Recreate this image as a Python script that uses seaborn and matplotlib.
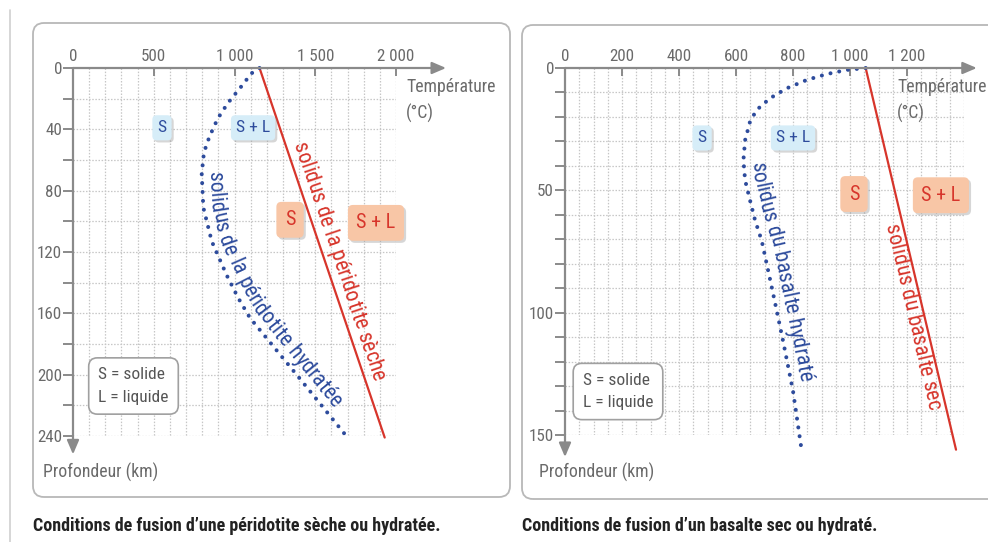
import numpy as np
import matplotlib
matplotlib.use('Agg')
import matplotlib.pyplot as plt
import matplotlib.patheffects as pe
import matplotlib.font_manager as fm
from matplotlib.patches import FancyBboxPatch
from matplotlib.lines import Line2D
from matplotlib.transforms import IdentityTransform
import seaborn as sns

# --- données ---
# péridotite (panneau gauche)
peri_ticks_T = [0, 500, 1000, 1500, 2000]
peri_labels_T = ['0', '500', '1 000', '1 500', '2 000']
peri_ticks_z = [0, 40, 80, 120, 160, 200, 240]
peri_minor_z = [20, 60, 100, 140, 180, 220]

peri_sec_T = [1155, 1930]
peri_sec_z = [0, 241]
peri_hyd_T = [1155, 1105, 1035, 958, 896, 844, 811, 797, 807, 859, 951, 1023, 1096, 1400, 1700]
peri_hyd_z = [0, 3.5, 13, 23, 33, 45, 55, 69, 91, 113, 135, 150, 163, 202, 241]

peri_box_T = [551, 1115, 1344, 1876]
peri_box_z = [39, 39, 99, 101]
peri_box_txt = ['S', 'S + L', 'S', 'S + L']

# basalte (panneau droit)
bas_ticks_T = [0, 200, 400, 600, 800, 1000, 1200]
bas_labels_T = ['0', '200', '400', '600', '800', '1 000', '1 200']
bas_ticks_z = [0, 50, 100, 150]
bas_minor_z = [10, 20, 30, 40, 60, 70, 80, 90, 110, 120, 130, 140]

bas_sec_T = [1055, 1372]
bas_sec_z = [0, 156]
bas_hyd_T = [1055, 988, 918, 848, 778, 719, 672, 649, 632, 626, 632, 649, 667, 690, 728, 765, 800, 830]
bas_hyd_z = [0, 0.8, 2.5, 4.9, 8.3, 12.4, 17.2, 22, 29.5, 37.7, 45.9, 54, 62.3, 70.5, 91, 111.5, 132, 156]

bas_box_T = [481, 800, 1014, 1319]
bas_box_z = [28.6, 28.6, 51.5, 52]
bas_box_txt = ['S', 'S + L', 'S', 'S + L']

W, H = 988, 542
BLEU = '#2d4b9c'
ROUGE = '#d7352b'
AXE = '#8a8a8a'
GRIS = '#6a6a6a'

sns.set_theme(style='white')

# police étroite si disponible
noms = {f.name for f in fm.fontManager.ttflist}
etroit = {f.name for f in fm.fontManager.ttflist if f.stretch in ('condensed', 'semi-condensed', 'extra-condensed')}
police, serre = 'Liberation Sans', 'normal'
for cand in ['Liberation Sans Narrow', 'Roboto Condensed', 'Open Sans Condensed', 'Noto Sans Condensed',
             'DejaVu Sans Condensed']:
    if cand in noms:
        police = cand
        break
else:
    for cand in ['Noto Sans', 'Open Sans', 'Roboto', 'DejaVu Sans']:
        if cand in etroit:
            police, serre = cand, 'condensed'
            break
plt.rcParams['font.family'] = [police, 'DejaVu Sans']
plt.rcParams['font.stretch'] = serre

fig = plt.figure(figsize=(W / 100, H / 100), dpi=100)
fig.patch.set_facecolor('white')
rend = fig.canvas.get_renderer()


def taille(txt, cible, **kw):
    t = fig.text(0, 0, txt, fontsize=10, **kw)
    w = t.get_window_extent(rend).width
    t.remove()
    return 10 * cible / w


FS_TICK = taille('1 000', 37)
FS_AXE = taille('Profondeur (km)', 115)
FS_COURBE = taille('solidus de la péridotite sèche', 250)
FS_LEG = taille('L = liquide', 70)
FS_TITRE = taille('Conditions de fusion d\u2019une péridotite sèche ou hydratée.', 407, fontweight='bold')
FS_BLEU = taille('S + L', 34)
FS_ORANGE = taille('S + L', 39)


def axes_px(x0, y0, x1, y1):
    return fig.add_axes([x0 / W, 1 - y1 / H, (x1 - x0) / W, (y1 - y0) / H])


def prepare(ax, xmax, zmax, dx, dz, xt, xl, zt, zm, xarrow, zarrow):
    ax.set_xlim(0, xmax)
    ax.set_ylim(zmax, 0)
    ax.set_facecolor('none')
    for s in ax.spines.values():
        s.set_visible(False)
    ax.vlines(np.arange(dx, xmax + 1, dx), 0, zmax, colors='#c6c6c6', lw=0.9,
              linestyles=(0, (1.2, 1.3)), zorder=0)
    ax.hlines(np.arange(dz, zmax + 1, dz), 0, xmax, colors='#c6c6c6', lw=0.9,
              linestyles=(0, (1.2, 1.3)), zorder=0)
    ax.xaxis.tick_top()
    ax.set_xticks(xt, xl)
    ax.set_yticks(zt, [str(v) for v in zt])
    ax.set_yticks(zm, minor=True)
    ax.tick_params(axis='x', which='major', direction='in', length=6, width=1.4,
                   color=AXE, labelcolor=GRIS, labelsize=FS_TICK, pad=3, top=True, bottom=False)
    ax.tick_params(axis='y', which='both', direction='out', length=7, width=1.4,
                   color=AXE, labelcolor=GRIS, labelsize=FS_TICK, pad=1, left=True)
    arr = dict(arrowstyle='-|>,head_length=0.7,head_width=0.3', color=AXE, lw=1.6,
               mutation_scale=12, shrinkA=0, shrinkB=0)
    ax.annotate('', xy=(xarrow, 0), xytext=(0, 0), arrowprops=arr, annotation_clip=False)
    ax.annotate('', xy=(0, zarrow), xytext=(0, 0), arrowprops=arr, annotation_clip=False)


def boites(ax, T, z, txt):
    for i, (x, y, s) in enumerate(zip(T, z, txt)):
        orange = i >= 2
        fs = FS_ORANGE if orange else FS_BLEU
        pad = (8.5 if orange else 5.0) / (fs * 100 / 72)
        t = ax.text(x, y, s, ha='center', va='center', fontsize=fs,
                    color=ROUGE if orange else BLEU, zorder=5,
                    bbox=dict(boxstyle='round,pad=%.2f,rounding_size=0.25' % pad,
                              fc='#f8c6a6' if orange else '#d6edf8', ec='none'))
        t.get_bbox_patch().set_path_effects(
            [pe.withSimplePatchShadow(offset=(1.5, -1.5), shadow_rgbFace='#8c8c8c', alpha=0.35)])


def texte_courbe(ax, xs, ys, texte, z0, decal, **kw):
    pts = ax.transData.transform(np.column_stack([xs, ys]))
    d = np.gradient(pts, axis=0)
    t = d / np.hypot(d[:, 0], d[:, 1])[:, None]
    n = np.column_stack([-t[:, 1], t[:, 0]])
    off = pts + n * decal
    cum = np.concatenate([[0], np.cumsum(np.hypot(*np.diff(off, axis=0).T))])
    idx = np.arange(len(xs))
    s = np.interp(np.interp(z0, ys, idx), idx, cum)
    ang = np.degrees(np.arctan2(t[:, 1], t[:, 0]))
    inv = ax.transData.inverted()
    ref = ax.text(0, 0, '||', **kw)
    wref = ref.get_window_extent(rend).width
    ref.remove()
    for c in texte:
        m = ax.text(0, 0, '|' + c + '|', **kw)
        w = m.get_window_extent(rend).width - wref
        m.remove()
        sc = s + w / 2
        x = np.interp(sc, cum, off[:, 0])
        y = np.interp(sc, cum, off[:, 1])
        a = np.interp(sc, cum, ang)
        xd, yd = inv.transform((x, y))
        ax.text(xd, yd, c, rotation=a, rotation_mode='anchor', ha='center',
                va='baseline', clip_on=False, **kw)
        s += w


ax1 = axes_px(73, 68, 396, 436)
ax2 = axes_px(565, 68, 964, 435)

prepare(ax1, 2000, 240, 100, 20, peri_ticks_T, peri_labels_T, peri_ticks_z, peri_minor_z, 2310, 252)
prepare(ax2, 1400, 150, 50, 10, bas_ticks_T, bas_labels_T, bas_ticks_z, bas_minor_z, 1445, 159)

pointille = dict(lw=2.9, linestyle=(0, (0.01, 2.2)), dash_capstyle='round', clip_on=False)
for ax, Ts, zs, Th, zh in [(ax1, peri_sec_T, peri_sec_z, peri_hyd_T, peri_hyd_z),
                           (ax2, bas_sec_T, bas_sec_z, bas_hyd_T, bas_hyd_z)]:
    sns.lineplot(x=Ts, y=zs, ax=ax, sort=False, estimator=None, color=ROUGE, lw=1.6, clip_on=False)
    sns.lineplot(x=Th, y=zh, ax=ax, sort=False, estimator=None, color=BLEU, **pointille)
    ax.set_xlabel('')
    ax.set_ylabel('')

boites(ax1, peri_box_T, peri_box_z, peri_box_txt)
boites(ax2, bas_box_T, bas_box_z, bas_box_txt)

kw_r = dict(fontsize=FS_COURBE, color=ROUGE)
kw_b = dict(fontsize=FS_COURBE, color=BLEU)
texte_courbe(ax1, peri_sec_T, peri_sec_z, 'solidus de la péridotite sèche', 52, 7, **kw_r)
texte_courbe(ax1, peri_hyd_T, peri_hyd_z, 'solidus de la péridotite hydratée', 68, 7, **kw_b)
texte_courbe(ax2, bas_hyd_T, bas_hyd_z, 'solidus du basalte hydraté', 39, 8, **kw_b)
texte_courbe(ax2, bas_sec_T, bas_sec_z, 'solidus du basalte sec', 63, -18, **kw_r)

# titres des axes, légendes, légendes de figure (positions en pixels)
for x0 in (406, 897):
    fig.text(x0 / W, 1 - 78 / H, 'Température\n(°C)', ha='left', va='top', fontsize=FS_AXE,
             color=GRIS, linespacing=1.5)
for x0 in (43, 539):
    fig.text(x0 / W, 1 - 472 / H, 'Profondeur (km)', ha='left', va='center', fontsize=FS_AXE, color=GRIS)
for xc, yc in ((133.5, 386), (618, 391.5)):
    fig.text(xc / W, 1 - yc / H, 'S = solide\nL = liquide', ha='center', va='center',
             multialignment='left', fontsize=FS_LEG, color='#555555', linespacing=1.6,
             bbox=dict(boxstyle='round,pad=0.55,rounding_size=0.5', fc='white', ec='#a0a0a0', lw=1.2))

fig.text(33 / W, 1 - 526 / H, 'Conditions de fusion d\u2019une péridotite sèche ou hydratée.',
         ha='left', va='center', fontsize=FS_TITRE, fontweight='bold', color='#222222')
fig.text(522 / W, 1 - 526 / H, 'Conditions de fusion d\u2019un basalte sec ou hydraté.',
         ha='left', va='center', fontsize=FS_TITRE, fontweight='bold', color='#222222')

# cadres arrondis
for x, y, w, h in ((33, 45, 477, 474), (522, 43, 490, 474)):
    fig.add_artist(FancyBboxPatch((x, y), w, h, boxstyle='round,pad=0,rounding_size=11',
                                  fc='none', ec='#b8b8b8', lw=1.3, transform=IdentityTransform()))
fig.add_artist(Line2D([10, 10], [0, 532], color='#cfcfcf', lw=1.2, transform=IdentityTransform()))

fig.savefig('out.png', dpi=100)
